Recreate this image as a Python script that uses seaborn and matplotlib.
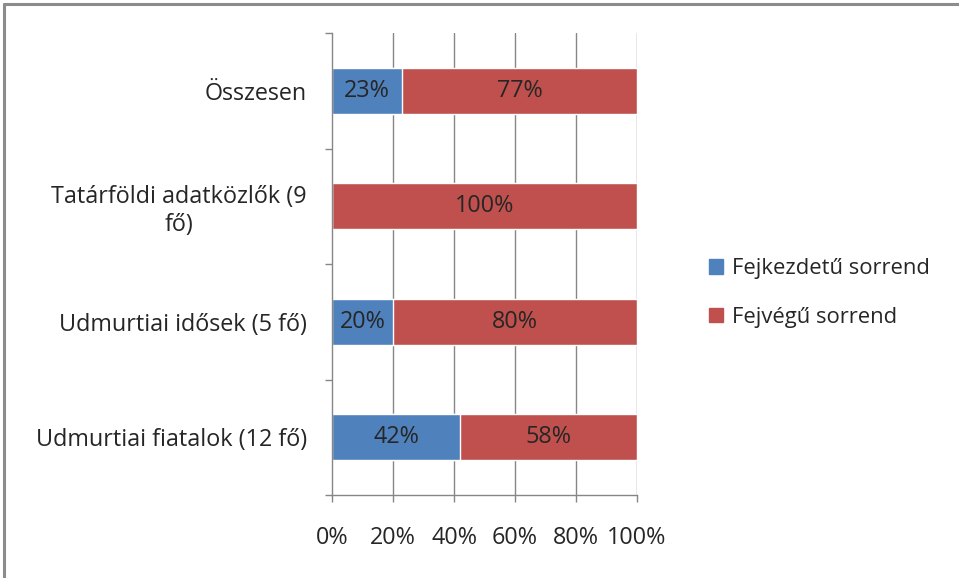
import matplotlib
matplotlib.use("Agg")
import matplotlib.pyplot as plt
import matplotlib.patches as mpatches
import matplotlib.lines as mlines
import seaborn as sns
import pandas as pd
import numpy as np

categories = ["Összesen", "Tatárföldi adatközlők (9\nfő)", "Udmurtiai idősek (5 fő)", "Udmurtiai fiatalok (12 fő)"]
fejkezdetu = [23, 0, 20, 42]
fejvegu = [77, 100, 80, 58]
series_names = ["Fejkezdetű sorrend", "Fejvégű sorrend"]
x_ticks = [0, 20, 40, 60, 80, 100]

BLUE = "#4F81BD"
RED = "#C0504D"
GRID = "#868686"
TEXT = "#262626"

sns.set_theme(style="white")
plt.rcParams["font.family"] = ["Open Sans", "DejaVu Sans"]
FS = 16.8
LEG_FS = 15.8

df = pd.DataFrame({
    "cat": categories,
    "blue": fejkezdetu,
    "total": [b + r for b, r in zip(fejkezdetu, fejvegu)],
})

fig = plt.figure(figsize=(9.59, 5.78), dpi=100)
ax = fig.add_axes([332 / 959, 1 - 495 / 578, (637 - 332) / 959, (495 - 33) / 578])

# stacked bars: full length in red, blue segment drawn over it
sns.barplot(data=df, x="total", y="cat", orient="h", color=RED, saturation=1,
            width=0.4, ax=ax, zorder=3)
sns.barplot(data=df, x="blue", y="cat", orient="h", color=BLUE, saturation=1,
            width=0.4, ax=ax, zorder=4)

for i, (b, r) in enumerate(zip(fejkezdetu, fejvegu)):
    if b > 0:
        ax.text(b / 2, i, f"{b}%", ha="center", va="center", fontsize=FS, color=TEXT, zorder=5)
    if r > 0:
        ax.text(b + r / 2, i, f"{r}%", ha="center", va="center", fontsize=FS, color=TEXT, zorder=5)

ax.set_xlim(0, 100)
ax.set_ylim(len(categories) - 0.5, -0.5)
ax.set_xticks(x_ticks)
ax.set_xticklabels([f"{t}%" for t in x_ticks], fontsize=FS, color=TEXT)
ax.set_yticks(range(len(categories)))
ax.set_yticklabels(categories, fontsize=FS, color=TEXT, multialignment="center")
ax.set_yticks(np.arange(-0.5, len(categories), 1), minor=True)
ax.set_xlabel("")
ax.set_ylabel("")

for t in x_ticks[1:]:
    ax.axvline(t, color=GRID, lw=1, zorder=1)

for s in ["top", "right"]:
    ax.spines[s].set_visible(False)
for s in ["left", "bottom"]:
    ax.spines[s].set_visible(True)
    ax.spines[s].set_color(GRID)
    ax.spines[s].set_linewidth(1)
    ax.spines[s].set_zorder(6)

ax.tick_params(axis="y", which="major", length=0, pad=18)
ax.tick_params(axis="y", which="minor", length=5, width=1, color=GRID, direction="out", left=True)
ax.tick_params(axis="x", which="major", length=5, width=1, color=GRID, direction="out", bottom=True, pad=17)

handles = [mpatches.Patch(color=BLUE, label=series_names[0]),
           mpatches.Patch(color=RED, label=series_names[1])]
fig.legend(handles=handles, loc="center left", bbox_to_anchor=(689 / 959, 1 - 293 / 578),
           frameon=False, fontsize=LEG_FS, handlelength=0.65, handleheight=0.65,
           handletextpad=0.4, labelspacing=1.25, labelcolor=TEXT)

# outer chart frame
fig.add_artist(mlines.Line2D([4 / 959, 4 / 959], [0, 1 - 4 / 578], color="#8C8C8C", lw=2.2,
                             transform=fig.transFigure))
fig.add_artist(mlines.Line2D([4 / 959, 1], [1 - 4 / 578, 1 - 4 / 578], color="#8C8C8C", lw=2.2,
                             transform=fig.transFigure))

fig.savefig("out.png", dpi=100, facecolor="white")
